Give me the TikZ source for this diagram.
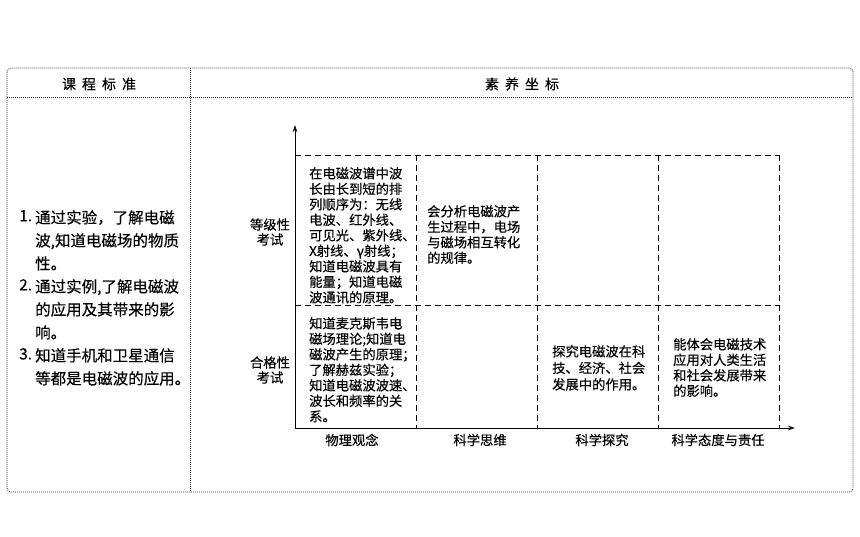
\documentclass[tikz,border=0pt]{standalone}
\usepackage{fontspec}
\setmainfont{Noto Sans CJK SC}[FakeBold=0.3]
\usetikzlibrary{arrows.meta}
\begin{document}
\begin{tikzpicture}[x=1pt,y=-1pt,
  frameline/.style={dash pattern=on 0.9pt off 1.1pt,line width=0.8pt,black!85},
  gridline/.style={dash pattern=on 6pt off 4pt,line width=0.9pt},
  axisline/.style={line width=1pt,-{Stealth[length=7pt,width=4.5pt]}},
  lefttext/.style={anchor=north west,inner sep=0pt,align=left,font=\fontsize{15.5}{23}\selectfont},
  celltext/.style={anchor=north west,inner sep=0pt,align=left,font=\fontsize{13.3}{15.5}\selectfont},
  axislabel/.style={inner sep=0pt,align=center,font=\fontsize{13.3}{15}\selectfont},
  headtext/.style={inner sep=0pt,font=\fontsize{14}{16}\selectfont}]
\useasboundingbox (0,0) rectangle (860,537);
% outer frame
\draw[frameline,rounded corners=4pt] (7,68) rectangle (853,492);
\draw[frameline] (7,97)--(853,97) (190,68)--(190,492);
\node[headtext] (hstd) at (99,84) {课\hspace{6pt}程\hspace{6pt}标\hspace{6pt}准};
\node[headtext] (hlit) at (522,84) {素\hspace{6pt}养\hspace{6pt}坐\hspace{6pt}标};
% left column
\node[lefttext] (n1) at (19,210) {1.};
\node[lefttext] (s1) at (35,210) {通过实验，了解电磁\\波,知道电磁场的物质\\性。};
\node[lefttext] (n2) at (19,279) {2.};
\node[lefttext] (s2) at (35,279) {通过实例,了解电磁波\\的应用及其带来的影\\响。};
\node[lefttext] (n3) at (19,348) {3.};
\node[lefttext] (s3) at (35,348) {知道手机和卫星通信\\等都是电磁波的应用。};
% axes
\coordinate (O) at (295,428);
\coordinate (ytop) at (295,125);
\coordinate (xend) at (795,428);
\draw[axisline] (O)--(ytop);
\draw[axisline] (O)--(xend);
% grid
\draw[gridline] (295,155)--(779,155) (295,305)--(779,305);
\foreach \x in {416,537,658,779}
  \draw[gridline] (\x,155)--(\x,428);
% labels
\node[axislabel] (grade) at (270,232) {等级性\\考试};
\node[axislabel] (pass) at (270,370) {合格性\\考试};
\node[axislabel] (idea) at (352,440) {物理观念};
\node[axislabel] (think) at (480,440) {科学思维};
\node[axislabel] (probe) at (602,440) {科学探究};
\node[axislabel] (duty) at (718,440) {科学态度与责任};
% cells
\node[celltext] (ideaA) at (309,167) {在电磁波谱中波\\长由长到短的排\\列顺序为：无线\\电波、红外线、\\可见光、紫外线、\\X射线、γ射线；\\知道电磁波具有\\能量；知道电磁\\波通讯的原理。};
\node[celltext] (thinkA) at (427,205) {会分析电磁波产\\生过程中，电场\\与磁场相互转化\\的规律。};
\node[celltext] (ideaB) at (309,317) {知道麦克斯韦电\\磁场理论;知道电\\磁波产生的原理；\\了解赫兹实验；\\知道电磁波波速、\\波长和频率的关\\系。};
\node[celltext,font=\fontsize{13.3}{16.5}\selectfont] (probeB) at (552,345) {探究电磁波在科\\技、经济、社会\\发展中的作用。};
\node[celltext] (dutyB) at (673,338) {能体会电磁技术\\应用对人类生活\\和社会发展带来\\的影响。};
\end{tikzpicture}
\end{document}
